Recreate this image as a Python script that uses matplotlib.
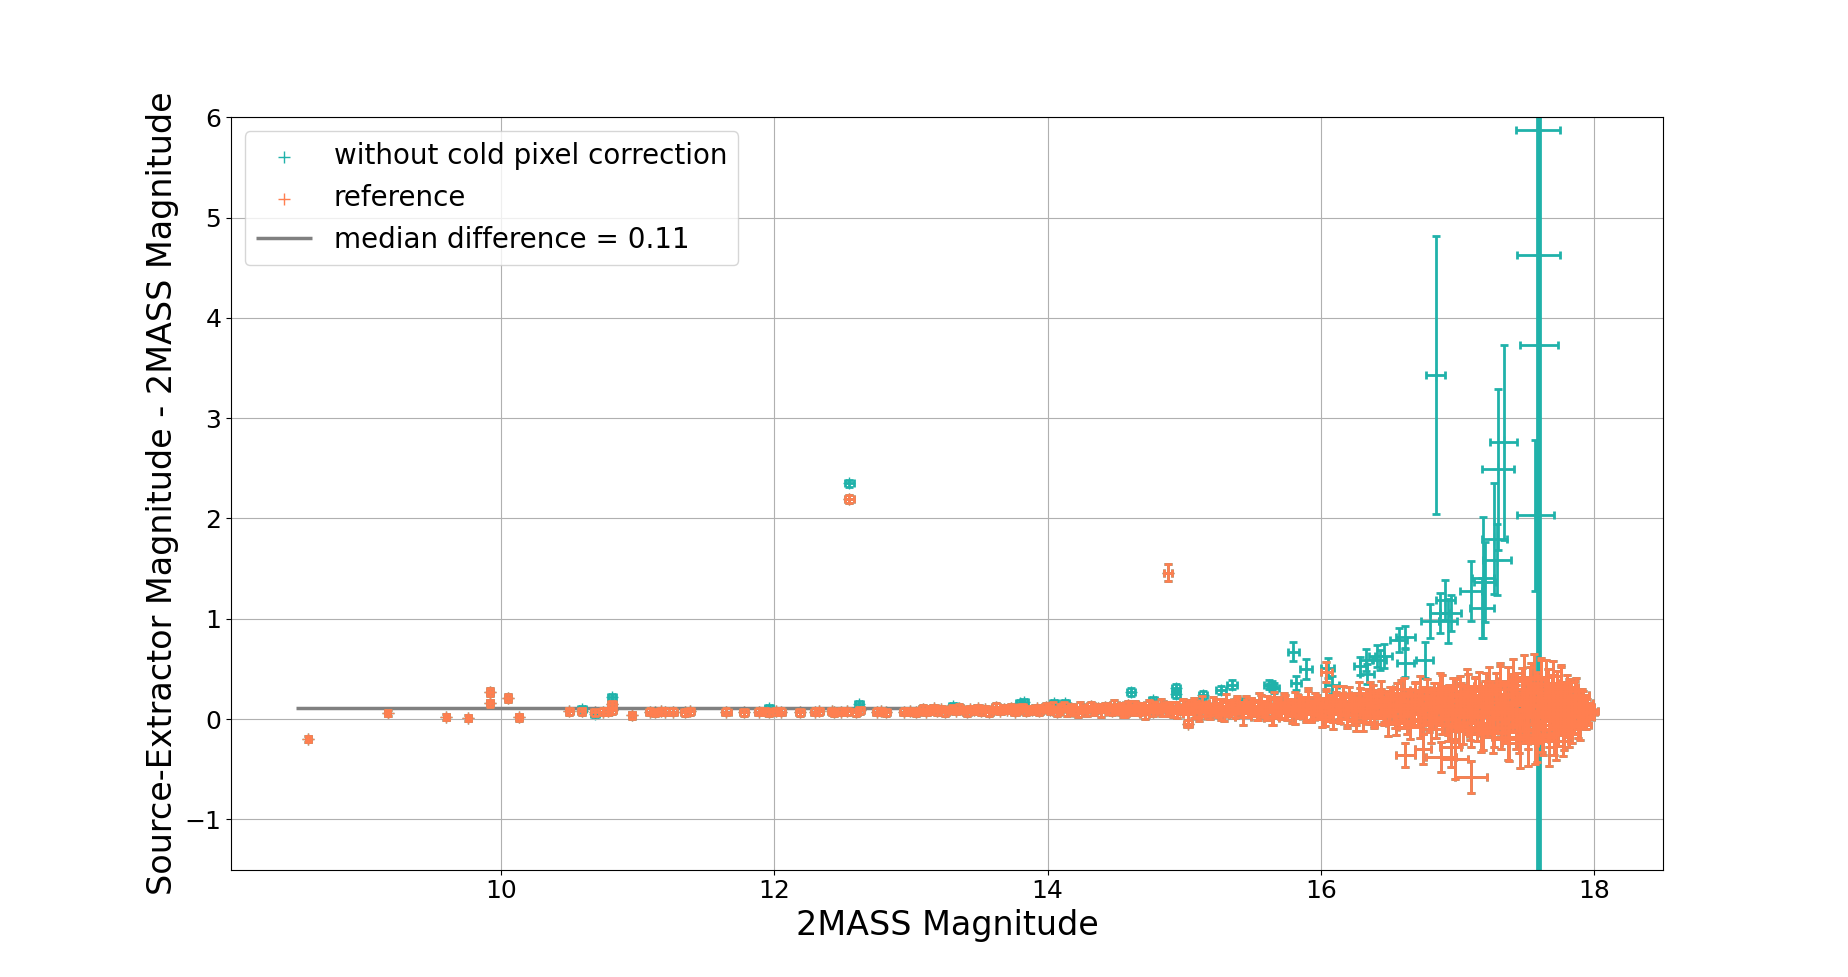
import numpy as np
import matplotlib.pyplot as plt

# 2MASS magnitude and (Source-Extractor - 2MASS) difference of every star,
# reference reduction (with cold pixel correction)
mag_2mass = [
    # bright end
    8.59, 9.17, 9.60, 9.76, 9.92, 9.92, 10.05, 10.13, 10.50, 10.59,
    10.69, 10.75, 10.78, 10.81, 10.81, 10.96, 11.09, 11.13, 11.17, 11.20,
    11.26, 11.35, 11.38, 11.65, 11.78, 11.89, 11.93, 11.96, 12.01, 12.05,
    12.19, 12.30, 12.33, 12.42, 12.44, 12.49, 12.53, 12.55, 12.60, 12.63,
    12.75, 12.78, 12.82, 12.95, 12.99, 13.04,
    # 13-14
    13.06, 13.09, 13.11, 13.14, 13.17, 13.19, 13.22, 13.25, 13.27, 13.30,
    13.33, 13.35, 13.38, 13.41, 13.43, 13.46, 13.49, 13.51, 13.54, 13.57,
    13.60, 13.62, 13.65, 13.68, 13.70, 13.73, 13.76, 13.78, 13.81, 13.84,
    13.86, 13.89, 13.92, 13.94, 13.97, 13.99,
    # 14-15
    14.02, 14.04, 14.07, 14.09, 14.12, 14.14, 14.17, 14.19, 14.22, 14.24,
    14.27, 14.29, 14.32, 14.34, 14.37, 14.39, 14.42, 14.44, 14.47, 14.49,
    14.52, 14.54, 14.57, 14.59, 14.62, 14.64, 14.67, 14.69, 14.72, 14.74,
    14.77, 14.79, 14.82, 14.84, 14.87, 14.89, 14.92, 14.94, 14.97, 14.99,
    # 15-16
    15.01, 15.03, 15.05, 15.07, 15.09, 15.11, 15.13, 15.15, 15.17, 15.19,
    15.21, 15.23, 15.25, 15.27, 15.29, 15.31, 15.33, 15.35, 15.37, 15.39,
    15.41, 15.43, 15.45, 15.47, 15.49, 15.51, 15.53, 15.55, 15.57, 15.59,
    15.61, 15.63, 15.65, 15.67, 15.69, 15.71, 15.73, 15.75, 15.77, 15.79,
    15.81, 15.83, 15.85, 15.87, 15.89, 15.91, 15.93, 15.95, 15.97, 15.99,
    # 16-17
    16.01, 16.03, 16.04, 16.06, 16.08, 16.09, 16.11, 16.13, 16.14, 16.16,
    16.18, 16.19, 16.21, 16.23, 16.24, 16.26, 16.28, 16.29, 16.31, 16.33,
    16.34, 16.36, 16.38, 16.39, 16.41, 16.43, 16.44, 16.46, 16.48, 16.49,
    16.51, 16.53, 16.54, 16.56, 16.58, 16.59, 16.61, 16.63, 16.64, 16.66,
    16.68, 16.69, 16.71, 16.73, 16.74, 16.76, 16.78, 16.79, 16.81, 16.83,
    16.84, 16.86, 16.88, 16.89, 16.91, 16.93, 16.94, 16.96, 16.98, 16.99,
    # 17-18
    17.01, 17.02, 17.04, 17.05, 17.07, 17.08, 17.10, 17.11, 17.13, 17.14,
    17.16, 17.17, 17.19, 17.20, 17.22, 17.23, 17.25, 17.26, 17.28, 17.29,
    17.31, 17.32, 17.34, 17.35, 17.37, 17.38, 17.40, 17.41, 17.43, 17.44,
    17.46, 17.47, 17.49, 17.50, 17.52, 17.53, 17.55, 17.56, 17.58, 17.59,
    17.61, 17.62, 17.64, 17.65, 17.67, 17.68, 17.70, 17.71, 17.73, 17.74,
    17.76, 17.77, 17.79, 17.80, 17.82, 17.83, 17.85, 17.86, 17.88, 17.89,
    17.91, 17.92, 17.94, 17.95, 17.97, 17.98,
    # more faint stars
    14.51, 14.55, 14.59, 14.63, 14.67, 14.71, 14.75, 14.79, 14.83, 14.87,
    14.91, 14.95, 14.99, 15.03, 15.07, 15.11, 15.15, 15.19, 15.23, 15.27,
    15.31, 15.35, 15.39, 15.43, 15.47,
    15.51, 15.54, 15.56, 15.59, 15.61, 15.64, 15.66, 15.69, 15.71, 15.74,
    15.76, 15.79, 15.81, 15.84, 15.86, 15.89, 15.91, 15.94, 15.96, 15.99,
    16.01, 16.04, 16.06, 16.09, 16.11, 16.14, 16.16, 16.19, 16.21, 16.24,
    16.26, 16.29, 16.31, 16.34, 16.36, 16.39, 16.41, 16.44, 16.46, 16.49,
    16.51, 16.53, 16.55, 16.57, 16.59, 16.61, 16.63, 16.65, 16.67, 16.69,
    16.71, 16.73, 16.75, 16.77, 16.79, 16.81, 16.83, 16.85, 16.87, 16.89,
    16.91, 16.93, 16.95, 16.97, 16.99, 17.01, 17.03, 17.05, 17.07, 17.09,
    17.11, 17.13, 17.15, 17.17, 17.19, 17.21, 17.23, 17.25, 17.27, 17.29,
    17.31, 17.33, 17.35, 17.37, 17.39, 17.41, 17.43, 17.45, 17.47, 17.49,
    17.51, 17.52, 17.54, 17.55, 17.57, 17.58, 17.60, 17.61, 17.63, 17.64,
    17.66, 17.67, 17.69, 17.70, 17.72, 17.73, 17.75, 17.76, 17.78, 17.79,
    17.81, 17.82, 17.84, 17.85, 17.87, 17.88, 17.90, 17.91, 17.93, 17.94,
    # outliers
    14.88, 15.03, 16.04, 16.62, 16.75, 16.88, 16.98, 16.95, 17.10,
]

mag_2mass_err = [
    0.02, 0.02, 0.02, 0.02, 0.02, 0.02, 0.02, 0.02, 0.025, 0.025,
    0.03, 0.03, 0.03, 0.03, 0.03, 0.02, 0.03, 0.03, 0.03, 0.03,
    0.03, 0.03, 0.03, 0.03, 0.03, 0.03, 0.03, 0.03, 0.03, 0.03,
    0.03, 0.03, 0.03, 0.03, 0.03, 0.03, 0.03, 0.03, 0.03, 0.03,
    0.03, 0.03, 0.03, 0.03, 0.03, 0.03,
    0.03, 0.03, 0.03, 0.03, 0.03, 0.03, 0.03, 0.03, 0.03, 0.03,
    0.03, 0.03, 0.03, 0.03, 0.03, 0.03, 0.03, 0.03, 0.03, 0.03,
    0.03, 0.03, 0.03, 0.03, 0.03, 0.03, 0.03, 0.03, 0.03, 0.03,
    0.03, 0.03, 0.03, 0.03, 0.03, 0.03,
    0.03, 0.035, 0.03, 0.035, 0.03, 0.035, 0.03, 0.035, 0.03, 0.035,
    0.03, 0.035, 0.03, 0.035, 0.03, 0.035, 0.03, 0.035, 0.03, 0.035,
    0.03, 0.035, 0.03, 0.035, 0.03, 0.035, 0.03, 0.035, 0.03, 0.035,
    0.03, 0.035, 0.03, 0.035, 0.03, 0.035, 0.03, 0.035, 0.03, 0.035,
    0.04, 0.04, 0.04, 0.05, 0.04, 0.04, 0.05, 0.04, 0.05, 0.04,
    0.05, 0.04, 0.05, 0.05, 0.04, 0.05, 0.05, 0.04, 0.05, 0.05,
    0.05, 0.06, 0.05, 0.05, 0.06, 0.05, 0.05, 0.06, 0.05, 0.05,
    0.06, 0.05, 0.06, 0.05, 0.06, 0.05, 0.06, 0.06, 0.05, 0.06,
    0.06, 0.06, 0.05, 0.06, 0.06, 0.06, 0.06, 0.05, 0.06, 0.06,
    0.06, 0.06, 0.07, 0.06, 0.07, 0.06, 0.07, 0.07, 0.06, 0.07,
    0.07, 0.06, 0.07, 0.07, 0.07, 0.08, 0.07, 0.07, 0.08, 0.07,
    0.07, 0.08, 0.07, 0.08, 0.08, 0.07, 0.08, 0.08, 0.07, 0.08,
    0.08, 0.08, 0.07, 0.08, 0.08, 0.09, 0.08, 0.08, 0.09, 0.08,
    0.08, 0.09, 0.08, 0.09, 0.08, 0.09, 0.09, 0.08, 0.09, 0.09,
    0.08, 0.09, 0.09, 0.10, 0.09, 0.09, 0.10, 0.09, 0.09, 0.10,
    0.09, 0.10, 0.09, 0.10, 0.10, 0.09, 0.10, 0.11, 0.10, 0.10,
    0.11, 0.10, 0.11, 0.11, 0.10, 0.11, 0.12, 0.11, 0.11, 0.12,
    0.11, 0.12, 0.12, 0.11, 0.12, 0.13, 0.12, 0.12, 0.13, 0.12,
    0.13, 0.13, 0.12, 0.13, 0.14, 0.13, 0.13, 0.14, 0.13, 0.14,
    0.14, 0.13, 0.14, 0.13, 0.14, 0.13, 0.13, 0.12, 0.13, 0.12,
    0.12, 0.11, 0.11, 0.10, 0.10, 0.09, 0.09, 0.08, 0.08, 0.07,
    0.07, 0.06, 0.06, 0.05, 0.05, 0.05,
    0.035, 0.035, 0.04, 0.035, 0.04, 0.035, 0.04, 0.04, 0.035, 0.04,
    0.04, 0.04, 0.04, 0.045, 0.04, 0.045, 0.04, 0.045, 0.045, 0.04,
    0.045, 0.045, 0.045, 0.05, 0.045,
    0.05, 0.05, 0.05, 0.05, 0.05, 0.055, 0.05, 0.055, 0.05, 0.055,
    0.055, 0.055, 0.06, 0.055, 0.06, 0.055, 0.06, 0.06, 0.06, 0.06,
    0.06, 0.06, 0.065, 0.06, 0.065, 0.06, 0.065, 0.065, 0.065, 0.065,
    0.065, 0.07, 0.065, 0.07, 0.07, 0.065, 0.07, 0.07, 0.07, 0.07,
    0.07, 0.07, 0.075, 0.07, 0.075, 0.075, 0.08, 0.075, 0.08, 0.08,
    0.08, 0.08, 0.085, 0.08, 0.085, 0.085, 0.09, 0.085, 0.09, 0.09,
    0.09, 0.09, 0.095, 0.09, 0.095, 0.095, 0.10, 0.095, 0.10, 0.10,
    0.10, 0.10, 0.105, 0.10, 0.105, 0.105, 0.11, 0.105, 0.11, 0.11,
    0.11, 0.11, 0.115, 0.11, 0.115, 0.115, 0.12, 0.115, 0.12, 0.12,
    0.12, 0.12, 0.13, 0.12, 0.13, 0.13, 0.14, 0.13, 0.14, 0.13,
    0.14, 0.13, 0.13, 0.13, 0.12, 0.13, 0.12, 0.12, 0.11, 0.11,
    0.11, 0.10, 0.10, 0.10, 0.09, 0.09, 0.08, 0.08, 0.07, 0.06,
    0.03, 0.03, 0.04, 0.07, 0.06, 0.11, 0.10, 0.08, 0.114,
]

diff_ref = [
    -0.20, 0.06, 0.02, 0.01, 0.27, 0.16, 0.21, 0.02, 0.08, 0.08,
    0.07, 0.075, 0.08, 0.15, 0.09, 0.04, 0.075, 0.07, 0.08, 0.075,
    0.075, 0.07, 0.08, 0.075, 0.07, 0.075, 0.08, 0.07, 0.08, 0.075,
    0.07, 0.075, 0.08, 0.08, 0.07, 0.075, 0.08, 2.19, 0.07, 0.09,
    0.075, 0.08, 0.07, 0.075, 0.08, 0.07,
    0.08, 0.10, 0.07, 0.09, 0.11, 0.08, 0.10, 0.07, 0.09, 0.10,
    0.08, 0.11, 0.09, 0.07, 0.10, 0.09, 0.11, 0.08, 0.10, 0.07,
    0.09, 0.12, 0.08, 0.10, 0.09, 0.11, 0.07, 0.10, 0.12, 0.08,
    0.10, 0.09, 0.11, 0.08, 0.10, 0.12,
    0.09, 0.12, 0.07, 0.10, 0.13, 0.08, 0.11, 0.09, 0.06, 0.12,
    0.10, 0.08, 0.13, 0.09, 0.11, 0.07, 0.12, 0.10, 0.08, 0.14,
    0.09, 0.11, 0.06, 0.12, 0.10, 0.13, 0.08, 0.11, 0.09, 0.14,
    0.07, 0.12, 0.10, 0.08, 0.13, 0.11, 0.06, 0.12, 0.09, 0.14,
    0.10, 0.05, 0.14, 0.08, 0.12, 0.03, 0.16, 0.09, 0.11, 0.06,
    0.15, 0.10, 0.07, 0.13, 0.04, 0.17, 0.09, 0.12, 0.06, 0.14,
    0.11, 0.02, 0.16, 0.08, 0.13, 0.10, 0.05, 0.18, 0.09, 0.12,
    0.07, 0.15, 0.03, 0.11, 0.14, 0.08, 0.17, 0.06, 0.12, 0.10,
    0.04, 0.16, 0.09, 0.13, 0.07, 0.19, 0.05, 0.11, 0.15, 0.08,
    0.12, 0.02, 0.20, 0.08, 0.15, -0.02, 0.24, 0.10, 0.05, 0.18,
    0.13, 0.00, 0.22, 0.09, 0.16, 0.04, 0.26, 0.11, -0.03, 0.19,
    0.14, 0.07, 0.23, 0.01, 0.17, 0.12, 0.28, 0.06, 0.15, -0.05,
    0.21, 0.10, 0.03, 0.25, 0.13, 0.08, 0.30, -0.02, 0.18, 0.11,
    0.05, 0.24, 0.14, -0.06, 0.20, 0.09, 0.27, 0.02, 0.16, 0.12,
    -0.04, 0.22, 0.07, 0.29, 0.13, 0.00, 0.19, 0.10, -0.07, 0.25,
    0.10, 0.25, -0.08, 0.18, 0.04, 0.28, -0.10, 0.13, 0.22, -0.04,
    0.30, 0.08, -0.12, 0.20, 0.02, 0.33, 0.12, -0.14, 0.25, 0.06,
    0.35, -0.08, 0.16, 0.00, 0.30, -0.18, 0.10, 0.38, -0.05, 0.22,
    -0.24, 0.14, 0.40, 0.03, -0.20, 0.27, 0.08, 0.42, -0.15, 0.18,
    0.36, -0.06, 0.12, 0.33, -0.22, 0.06, 0.30, -0.10, 0.18, 0.00,
    0.28, -0.14, 0.12, 0.22, -0.06, 0.16, 0.04, 0.20, -0.02, 0.12,
    0.06, 0.14, 0.02, 0.10, 0.07, 0.08,
    0.11, 0.07, 0.14, 0.09, 0.12, 0.05, 0.13, 0.10, 0.15, 0.08,
    0.12, 0.06, 0.14, 0.10, 0.16, 0.07, 0.12, 0.09, 0.15, 0.05,
    0.13, 0.10, 0.17, 0.08, 0.12,
    0.13, 0.06, 0.18, 0.09, 0.15, 0.01, 0.20, 0.11, 0.07, 0.16,
    0.12, 0.03, 0.19, 0.10, 0.14, 0.05, 0.22, 0.08, 0.17, 0.12,
    0.00, 0.21, 0.13, 0.06, 0.18, 0.10, 0.24, 0.04, 0.15, 0.11,
    -0.02, 0.20, 0.08, 0.16, 0.26, 0.03, 0.13, 0.19, 0.07, 0.14,
    0.08, 0.20, -0.04, 0.14, 0.26, 0.03, 0.17, -0.08, 0.11, 0.23,
    0.05, 0.29, -0.02, 0.15, 0.09, -0.10, 0.21, 0.12, 0.31, 0.01,
    0.18, -0.06, 0.14, 0.25, 0.06, -0.12, 0.19, 0.10, 0.33, -0.03,
    0.16, 0.24, 0.02, -0.15, 0.13, 0.28, 0.07, 0.20, -0.09, 0.11,
    0.34, 0.00, 0.17, -0.20, 0.25, 0.08, 0.14, -0.12, 0.30, 0.05,
    0.15, -0.05, 0.30, 0.08, -0.18, 0.22, 0.02, 0.35, -0.10, 0.14,
    0.26, -0.02, 0.19, 0.05, -0.16, 0.24, 0.10, 0.32, -0.08, 0.15,
    0.03, 0.20, -0.04, 0.12, 0.24, 0.06, -0.06, 0.16, 0.08, 0.12,
    1.46, -0.045, 0.47, -0.36, -0.30, -0.38, -0.40, -0.28, -0.58,
]

diff_ref_err = [
    0.03, 0.03, 0.03, 0.03, 0.035, 0.035, 0.035, 0.035, 0.035, 0.035,
    0.035, 0.035, 0.035, 0.035, 0.035, 0.035, 0.035, 0.035, 0.035, 0.035,
    0.035, 0.035, 0.035, 0.035, 0.035, 0.035, 0.035, 0.035, 0.035, 0.035,
    0.035, 0.035, 0.035, 0.035, 0.035, 0.035, 0.035, 0.04, 0.035, 0.035,
    0.035, 0.035, 0.035, 0.035, 0.035, 0.035,
    0.03, 0.04, 0.03, 0.04, 0.03, 0.04, 0.03, 0.04, 0.03, 0.04,
    0.03, 0.04, 0.03, 0.04, 0.03, 0.04, 0.03, 0.04, 0.03, 0.04,
    0.03, 0.04, 0.03, 0.04, 0.03, 0.04, 0.03, 0.04, 0.03, 0.04,
    0.03, 0.04, 0.03, 0.04, 0.03, 0.04,
    0.04, 0.05, 0.04, 0.05, 0.04, 0.05, 0.04, 0.05, 0.04, 0.05,
    0.04, 0.05, 0.04, 0.05, 0.04, 0.05, 0.04, 0.05, 0.04, 0.05,
    0.04, 0.05, 0.04, 0.05, 0.04, 0.05, 0.04, 0.05, 0.04, 0.05,
    0.04, 0.05, 0.04, 0.05, 0.04, 0.05, 0.04, 0.05, 0.04, 0.05,
    0.05, 0.06, 0.05, 0.07, 0.06, 0.05, 0.07, 0.06, 0.05, 0.06,
    0.07, 0.06, 0.05, 0.07, 0.06, 0.08, 0.06, 0.07, 0.05, 0.07,
    0.06, 0.08, 0.07, 0.06, 0.08, 0.07, 0.06, 0.08, 0.07, 0.06,
    0.08, 0.07, 0.09, 0.06, 0.08, 0.07, 0.09, 0.07, 0.08, 0.06,
    0.09, 0.08, 0.07, 0.09, 0.08, 0.09, 0.08, 0.07, 0.09, 0.08,
    0.08, 0.09, 0.08, 0.10, 0.09, 0.08, 0.09, 0.10, 0.09, 0.08,
    0.10, 0.09, 0.10, 0.11, 0.09, 0.10, 0.11, 0.10, 0.09, 0.11,
    0.10, 0.12, 0.11, 0.10, 0.12, 0.11, 0.10, 0.12, 0.11, 0.12,
    0.11, 0.13, 0.12, 0.11, 0.13, 0.12, 0.11, 0.13, 0.12, 0.14,
    0.13, 0.12, 0.14, 0.13, 0.12, 0.14, 0.13, 0.15, 0.14, 0.13,
    0.15, 0.14, 0.13, 0.15, 0.14, 0.16, 0.15, 0.14, 0.16, 0.15,
    0.16, 0.18, 0.17, 0.16, 0.19, 0.17, 0.18, 0.17, 0.19, 0.18,
    0.17, 0.20, 0.19, 0.18, 0.20, 0.19, 0.21, 0.20, 0.21, 0.19,
    0.21, 0.22, 0.20, 0.23, 0.22, 0.24, 0.23, 0.22, 0.25, 0.24,
    0.25, 0.26, 0.24, 0.26, 0.27, 0.25, 0.27, 0.23, 0.28, 0.26,
    0.25, 0.27, 0.28, 0.26, 0.25, 0.27, 0.28, 0.26, 0.25, 0.27,
    0.24, 0.23, 0.24, 0.22, 0.22, 0.21, 0.19, 0.18, 0.17, 0.17,
    0.15, 0.14, 0.12, 0.10, 0.07, 0.05,
    0.04, 0.05, 0.04, 0.05, 0.04, 0.05, 0.05, 0.04, 0.05, 0.05,
    0.05, 0.05, 0.06, 0.05, 0.05, 0.06, 0.05, 0.06, 0.05, 0.06,
    0.06, 0.05, 0.06, 0.06, 0.06,
    0.06, 0.07, 0.06, 0.07, 0.08, 0.07, 0.07, 0.08, 0.07, 0.08,
    0.08, 0.07, 0.08, 0.09, 0.08, 0.08, 0.09, 0.08, 0.09, 0.09,
    0.08, 0.09, 0.10, 0.09, 0.09, 0.10, 0.09, 0.10, 0.10, 0.09,
    0.10, 0.11, 0.10, 0.10, 0.11, 0.10, 0.11, 0.11, 0.10, 0.11,
    0.11, 0.12, 0.12, 0.11, 0.13, 0.12, 0.13, 0.12, 0.13, 0.14,
    0.13, 0.14, 0.13, 0.14, 0.15, 0.14, 0.15, 0.14, 0.15, 0.16,
    0.15, 0.16, 0.15, 0.16, 0.17, 0.16, 0.17, 0.16, 0.17, 0.18,
    0.17, 0.18, 0.17, 0.18, 0.19, 0.18, 0.19, 0.18, 0.19, 0.20,
    0.19, 0.20, 0.19, 0.21, 0.20, 0.21, 0.20, 0.22, 0.21, 0.22,
    0.24, 0.25, 0.26, 0.24, 0.27, 0.25, 0.26, 0.24, 0.26, 0.25,
    0.24, 0.26, 0.25, 0.23, 0.25, 0.24, 0.23, 0.22, 0.23, 0.22,
    0.21, 0.20, 0.20, 0.19, 0.17, 0.16, 0.15, 0.14, 0.12, 0.10,
    0.085, 0.035, 0.10, 0.12, 0.15, 0.15, 0.20, 0.20, 0.16,
]

# stars whose difference changes without the cold pixel correction
# (all other stars are identical in both reductions)
mag_nocorr = [
    10.59, 10.69, 10.81, 11.96, 12.55, 12.62, 13.31, 13.80, 13.83, 14.05,
    14.13, 14.61, 14.77, 14.94, 14.94, 15.14, 15.27, 15.35, 15.42, 15.62,
    15.64, 15.66, 15.80, 15.82, 15.89, 16.05, 16.08, 16.29, 16.33, 16.34,
    16.41, 16.43, 16.46, 16.57, 16.62, 16.62, 16.76, 16.80, 16.84, 16.87,
    16.91, 16.93, 16.95, 17.10, 17.18, 17.19, 17.20, 17.27, 17.29, 17.30,
    17.34, 17.57, 17.585, 17.592, 17.595, 17.598, 17.607,
]
mag_nocorr_err = [
    0.03, 0.03, 0.03, 0.03, 0.03, 0.03, 0.03, 0.03, 0.03, 0.03,
    0.03, 0.03, 0.03, 0.03, 0.03, 0.03, 0.035, 0.035, 0.04, 0.035,
    0.035, 0.035, 0.04, 0.035, 0.045, 0.045, 0.05, 0.05, 0.045, 0.05,
    0.055, 0.05, 0.06, 0.06, 0.07, 0.065, 0.065, 0.065, 0.073, 0.07,
    0.07, 0.065, 0.08, 0.08, 0.09, 0.08, 0.08, 0.09, 0.106, 0.118,
    0.098, 0.137, 0.10, 0.16, 0.155, 0.14, 0.10,
]
diff_nocorr = [
    0.10, 0.05, 0.22, 0.115, 2.35, 0.15, 0.13, 0.16, 0.17, 0.16,
    0.16, 0.27, 0.19, 0.31, 0.25, 0.24, 0.29, 0.34, 0.16, 0.34,
    0.33, 0.31, 0.67, 0.36, 0.50, 0.51, 0.34, 0.525, 0.59, 0.45,
    0.625, 0.59, 0.63, 0.79, 0.815, 0.56, 0.59, 0.975, 3.43, 1.06,
    1.19, 0.975, 1.06, 1.28, 1.11, 1.41, 1.37, 1.80, 1.59, 2.49,
    2.76, 2.03, 0.30, 5.87, 4.63, 3.73, 0.10,
]
diff_nocorr_err = [
    0.03, 0.03, 0.03, 0.03, 0.035, 0.03, 0.03, 0.03, 0.03, 0.03,
    0.03, 0.04, 0.03, 0.04, 0.04, 0.04, 0.04, 0.045, 0.04, 0.045,
    0.05, 0.05, 0.095, 0.07, 0.10, 0.10, 0.09, 0.09, 0.11, 0.10,
    0.11, 0.10, 0.12, 0.12, 0.11, 0.14, 0.18, 0.17, 1.39, 0.20,
    0.20, 0.22, 0.18, 0.30, 0.30, 0.60, 0.40, 0.55, 0.35, 0.80,
    0.97, 0.75, 9.0, 8.0, 7.0, 6.0, 9.0,
]

median_diff = 0.11
median_span = (8.5, 18.0)

teal = 'lightseagreen'
orange = 'coral'

mag_ref = np.array(mag_2mass)
mag_ref_err = np.array(mag_2mass_err)
d_ref = np.array(diff_ref)
d_ref_err = np.array(diff_ref_err)

# without correction: unchanged stars + changed ones
mag_nc = np.concatenate([mag_ref, mag_nocorr])
mag_nc_err = np.concatenate([mag_ref_err, mag_nocorr_err])
d_nc = np.concatenate([d_ref, diff_nocorr])
d_nc_err = np.concatenate([d_ref_err, diff_nocorr_err])

fig = plt.figure(figsize=(18.48, 9.77), dpi=100)
ax = fig.add_subplot(111)

eb_style = dict(fmt='none', elinewidth=2, capsize=3, capthick=2)

ax.scatter(mag_nc, d_nc, marker='+', s=75, linewidths=1, color=teal,
           label='without cold pixel correction')
ax.errorbar(mag_nc, d_nc, xerr=mag_nc_err, yerr=d_nc_err, ecolor=teal, **eb_style)

ax.scatter(mag_ref, d_ref, marker='+', s=75, linewidths=1, color=orange,
           label='reference')
ax.errorbar(mag_ref, d_ref, xerr=mag_ref_err, yerr=d_ref_err, ecolor=orange, **eb_style)

ax.hlines(median_diff, median_span[0], median_span[1], colors='grey', lw=2.5,
          zorder=1.9, label='median difference = %.2f' % median_diff)

ax.set_ylim(-1.5, 6)
ax.grid(True)
ax.tick_params(labelsize=18)
ax.set_xlabel('2MASS Magnitude', fontsize=24)
ax.set_ylabel('Source-Extractor Magnitude - 2MASS Magnitude', fontsize=24)
ax.legend(loc='upper left', fontsize=20)

fig.savefig('out.png', dpi=100)
